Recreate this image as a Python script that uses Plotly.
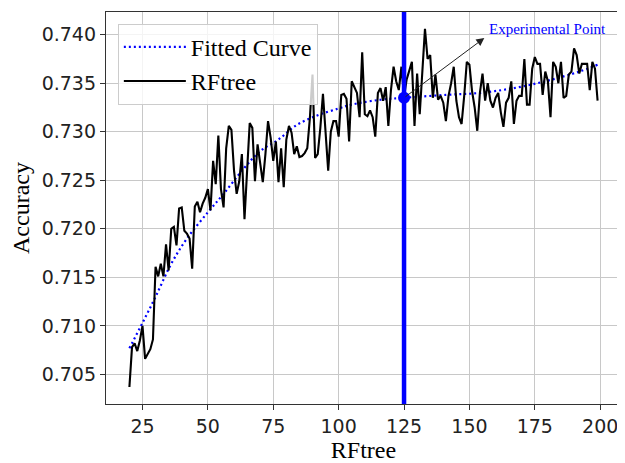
import plotly.graph_objects as go

# ---- data ----
rf_x = list(range(20, 200))
rf_acc = [
    0.7037, 0.7078, 0.7082, 0.7074, 0.7085, 0.7100, 0.7066, 0.7071, 0.7076, 0.7086,  # 20-29
    0.7161, 0.7151, 0.7164, 0.7151, 0.7184, 0.7157, 0.7200, 0.7202, 0.7183, 0.7221,  # 30-39
    0.7222, 0.7198, 0.7195, 0.7190, 0.7159, 0.7223, 0.7228, 0.7217, 0.7226, 0.7232,  # 40-49
    0.7241, 0.7219, 0.7270, 0.7246, 0.7296, 0.7241, 0.7222, 0.7283, 0.7306, 0.7302,  # 50-59
    0.7260, 0.7236, 0.7249, 0.7277, 0.7210, 0.7260, 0.7309, 0.7304, 0.7249, 0.7287,  # 60-69
    0.7266, 0.7248, 0.7277, 0.7311, 0.7294, 0.7270, 0.7290, 0.7248, 0.7283, 0.7243,  # 70-79
    0.7292, 0.7306, 0.7299, 0.7277, 0.7285, 0.7274, 0.7275, 0.7278, 0.7283, 0.7314,  # 80-89
    0.7359, 0.7273, 0.7277, 0.7304, 0.7339, 0.7294, 0.7260, 0.7300, 0.7311, 0.7311,  # 90-99
    0.7295, 0.7338, 0.7339, 0.7334, 0.7290, 0.7352, 0.7345, 0.7340, 0.7315, 0.7382,  # 100-109
    0.7318, 0.7316, 0.7322, 0.7315, 0.7295, 0.7340, 0.7345, 0.7332, 0.7346, 0.7306,  # 110-119
    0.7343, 0.7367, 0.7352, 0.7343, 0.7367, 0.7336, 0.7354, 0.7362, 0.7372, 0.7306,  # 120-129
    0.7360, 0.7318, 0.7360, 0.7406, 0.7375, 0.7379, 0.7335, 0.7359, 0.7333, 0.7337,  # 130-139
    0.7330, 0.7311, 0.7337, 0.7350, 0.7367, 0.7332, 0.7315, 0.7308, 0.7337, 0.7372,  # 140-149
    0.7369, 0.7342, 0.7325, 0.7301, 0.7340, 0.7360, 0.7332, 0.7350, 0.7332, 0.7325,  # 150-159
    0.7335, 0.7340, 0.7320, 0.7305, 0.7330, 0.7335, 0.7352, 0.7308, 0.7332, 0.7337,  # 160-169
    0.7337, 0.7375, 0.7328, 0.7328, 0.7365, 0.7377, 0.7370, 0.7370, 0.7338, 0.7362,  # 170-179
    0.7352, 0.7315, 0.7372, 0.7367, 0.7350, 0.7372, 0.7335, 0.7337, 0.7359, 0.7362,  # 180-189
    0.7386, 0.7379, 0.7360, 0.7370, 0.7370, 0.7370, 0.7343, 0.7372, 0.7365, 0.7332,  # 190-199
]

fit_x = [20, 25, 30, 36, 42, 50, 56, 64, 70, 77, 84, 92, 100, 105, 116, 125, 141, 154, 167, 179, 192, 199]
fit_acc = [0.7077, 0.7103, 0.7130, 0.7164, 0.7190, 0.7217, 0.7236, 0.7263, 0.7280, 0.7292,
           0.7307, 0.7317, 0.7324, 0.7328, 0.7333, 0.7335, 0.7338, 0.7340, 0.7345, 0.7352,
           0.7362, 0.7369]

exp_x = 125
exp_acc = 0.7335
note_text = "Experimental Point"
note_head = (155.7, 0.73966)
note_pos = (156.6, 0.7406)

x_ticks = [25, 50, 75, 100, 125, 150, 175, 200]
y_ticks = [0.705, 0.710, 0.715, 0.720, 0.725, 0.730, 0.735, 0.740]

SERIF = "Liberation Serif, Times New Roman, serif"
SANS = "DejaVu Sans, sans-serif"

fig = go.Figure()

fig.add_trace(go.Scatter(
    x=fit_x, y=fit_acc, mode="lines", name="Fitted Curve",
    line=dict(color="#0000ff", width=2.2, dash="2px,3px", shape="spline"),
    legendgroup="a",
))
fig.add_trace(go.Scatter(
    x=rf_x, y=rf_acc, mode="lines", name="RFtree",
    line=dict(color="black", width=2.1),
    legendgroup="b",
))
# vertical line at the experimental point
fig.add_trace(go.Scatter(
    x=[exp_x, exp_x], y=[0.690, 0.750], mode="lines",
    line=dict(color="#0000ff", width=4.5), showlegend=False, hoverinfo="skip",
))
fig.add_trace(go.Scatter(
    x=[exp_x], y=[exp_acc], mode="markers",
    marker=dict(color="#0000ff", size=12), showlegend=False,
))

fig.add_annotation(
    x=note_head[0], y=note_head[1], ax=exp_x, ay=exp_acc,
    xref="x", yref="y", axref="x", ayref="y",
    text="", showarrow=True, arrowhead=2, arrowsize=1.6, arrowwidth=1,
    arrowcolor="#222222", standoff=0, startstandoff=0,
)
fig.add_annotation(
    x=note_pos[0], y=note_pos[1], xref="x", yref="y",
    text=note_text, showarrow=False, xanchor="left", yanchor="middle",
    font=dict(family=SERIF, size=15, color="#0000ff"),
)

axis_common = dict(
    showgrid=True, gridcolor="#c8c8c8", gridwidth=1.2,
    showline=True, linecolor="#333333", linewidth=1.3, mirror=True,
    ticks="outside", ticklen=5, tickwidth=1.2, tickcolor="#333333",
    tickfont=dict(family=SANS, size=19, color="#222222"),
    zeroline=False,
)

# page body has an 8px margin: figure is sized/offset to compensate
fig.update_layout(
    width=617, height=455,
    margin=dict(l=98, r=3, t=4, b=54),
    paper_bgcolor="white", plot_bgcolor="white",
    showlegend=True,
    legend=dict(
        x=0.023, y=0.97, xanchor="left", yanchor="top",
        bgcolor="rgba(255,255,255,0.8)", bordercolor="#cccccc", borderwidth=1,
        font=dict(family=SERIF, size=24, color="black"),
        tracegroupgap=2, traceorder="normal", itemwidth=62,
    ),
    xaxis=dict(
        range=[11.05, 207.95], tickvals=x_ticks,
        title=dict(text="RFtree", font=dict(family=SERIF, size=24, color="black"), standoff=6),
        **axis_common,
    ),
    yaxis=dict(
        range=[0.70195, 0.74234], tickvals=y_ticks, tickformat=".3f",
        title=dict(text="Accuracy", font=dict(family=SERIF, size=24, color="black"), standoff=12),
        **axis_common,
    ),
)

fig.write_html("out.html")
